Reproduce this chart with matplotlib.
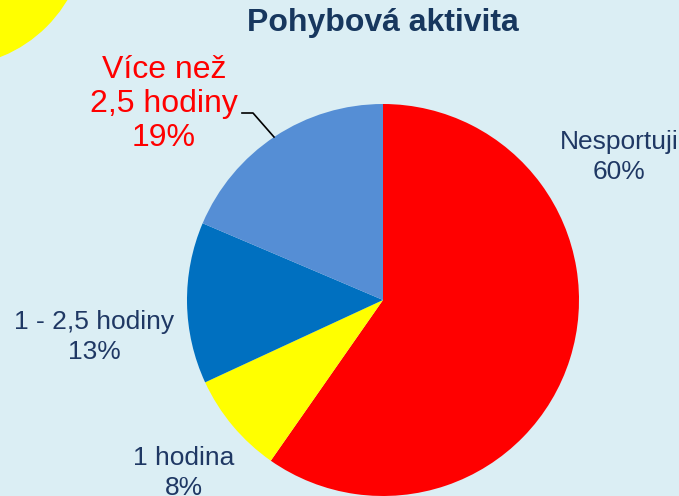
import matplotlib
matplotlib.use("Agg")
import matplotlib.pyplot as plt
from matplotlib.patches import Circle

plt.rcParams['font.family'] = ['Liberation Sans', 'DejaVu Sans']

# data (shares, labels show them rounded)
categories = ["Nesportuji", "1 hodina", "1 - 2,5 hodiny", "Více než\n2,5 hodiny"]
shares = [59.7, 8.4, 13.3, 18.6]
slice_colors = ["#FF0000", "#FFFF00", "#0070C0", "#558ED5"]

BG = "#DBEEF4"
NAVY = "#1F3864"

fig = plt.figure(figsize=(6.79, 4.96), dpi=100, facecolor=BG)
ax = fig.add_axes([0, 0, 1, 1])
ax.set_facecolor(BG)
ax.set_aspect("equal")
ax.axis("off")

# yellow decoration in the corner
ax.add_patch(Circle((-50, -70), 136, color="#FFFF00", zorder=0))

# y axis gets inverted, so counterclock in data = clockwise on screen
ax.pie(shares, colors=slice_colors, center=(383, 300), radius=196,
       startangle=-90, counterclock=True,
       wedgeprops=dict(linewidth=0))
ax.set_xlim(0, 679)
ax.set_ylim(496, 0)  # pixel-like coords, y down

ax.text(383, 23, "Pohybová aktivita", ha="center", va="center",
        fontsize=23, fontweight="bold", color="#17375E")


def pct(v):
    return f"{round(v)}%"


# labels
ax.text(619, 157, f"{categories[0]}\n{pct(shares[0])}", ha="center", va="center",
        fontsize=19, color=NAVY, linespacing=1.27)
ax.text(184, 473, f"{categories[1]}\n{pct(shares[1])}", ha="center", va="center",
        fontsize=19, color=NAVY, linespacing=1.27)
ax.text(94, 337, f"{categories[2]}\n{pct(shares[2])}", ha="center", va="center",
        fontsize=19, color=NAVY, linespacing=1.27)
ax.text(164, 104, f"{categories[3]}\n{pct(shares[3])}", ha="center", va="center",
        fontsize=23, color="#FF0000", linespacing=1.18)

# leader line for the red label
ax.plot([242, 253, 274], [113, 113, 137], color="black", linewidth=1.2)

fig.savefig("out.png", dpi=100, facecolor=BG)
